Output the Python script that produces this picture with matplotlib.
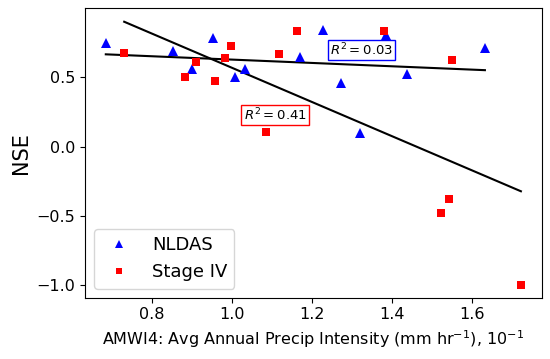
import matplotlib
matplotlib.use('Agg')
import matplotlib.pyplot as plt
import numpy as np

# NLDAS points
nldas_x = [0.685, 0.853, 0.900, 0.953, 1.008, 1.032, 1.171, 1.228, 1.273, 1.320, 1.386, 1.438, 1.633]
nldas_y = [0.749, 0.692, 0.560, 0.781, 0.500, 0.560, 0.644, 0.841, 0.461, 0.101, 0.805, 0.524, 0.713]

# Stage IV points
st4_x = [0.731, 0.883, 0.910, 0.957, 0.982, 0.998, 1.086, 1.117, 1.162, 1.381, 1.524, 1.542, 1.550, 1.723]
st4_y = [0.673, 0.502, 0.610, 0.471, 0.641, 0.725, 0.108, 0.666, 0.834, 0.834, -0.480, -0.379, 0.622, -0.996]

r2_labels = ['0.03', '0.41']


def fit_line(x, y):
    x = np.array(x)
    coef = np.polyfit(x, y, 1)
    xs = np.array([x.min(), x.max()])
    return xs, np.polyval(coef, xs)


fig, ax = plt.subplots(figsize=(5.5, 3.59), dpi=100)

ax.plot(nldas_x, nldas_y, '^', color='blue', ms=7.5, mew=0, label='NLDAS', zorder=3)
ax.plot(st4_x, st4_y, 's', color='red', ms=6.3, mew=0, label='Stage IV', zorder=3)

xs, ys = fit_line(nldas_x, nldas_y)
ax.plot(xs, ys, color='black', lw=1.5, zorder=2)
xs, ys = fit_line(st4_x, st4_y)
ax.plot(xs, ys, color='black', lw=1.5, zorder=2)

ax.text(1.325, 0.697, f'$R^2 = {r2_labels[0]}$', fontsize=9.5, ha='center', va='center',
        bbox=dict(facecolor='white', edgecolor='blue', pad=1.5), zorder=4)
ax.text(1.108, 0.228, f'$R^2 = {r2_labels[1]}$', fontsize=9.5, ha='center', va='center',
        bbox=dict(facecolor='white', edgecolor='red', pad=1.5), zorder=4)

ax.set_xlim(0.633, 1.775)
ax.set_ylim(-1.088, 0.997)
ax.set_xticks([0.8, 1.0, 1.2, 1.4, 1.6])
ax.set_yticks([-1.0, -0.5, 0.0, 0.5])
ax.tick_params(labelsize=11.5)

ax.set_xlabel(r'AMWI4: Avg Annual Precip Intensity (mm hr$^{-1}$), 10$^{-1}$', fontsize=11.5)
ax.set_ylabel('NSE', fontsize=15)

ax.legend(loc='lower left', fontsize=13, markerscale=0.75)

fig.subplots_adjust(left=85/550, right=541.7/550, top=1 - 8.3/359, bottom=1 - 297.7/359)
plt.savefig('out.png', dpi=100)
plt.close()
